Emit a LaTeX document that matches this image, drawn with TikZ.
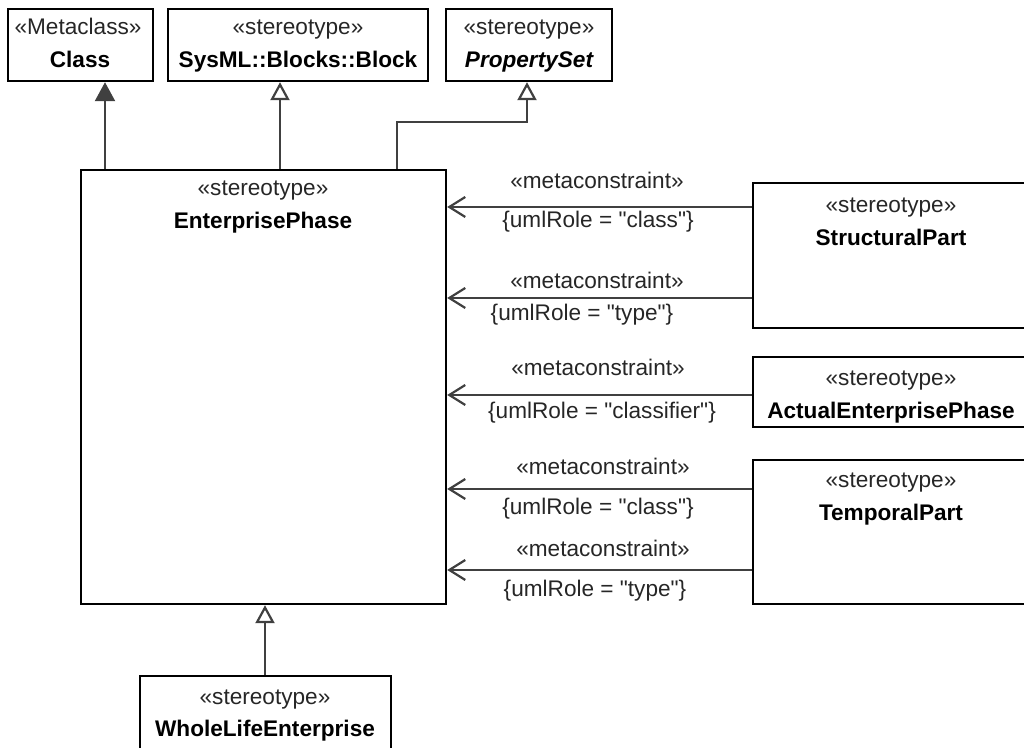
\documentclass[tikz,border=0pt]{standalone}
\usepackage{fontspec}
\setmainfont{Liberation Sans}[Ligatures=TeXOff]
\usetikzlibrary{arrows.meta,fit}
\begin{document}
\begin{tikzpicture}[x=0.5pt,y=-0.5pt,
  box/.style={draw=black, line width=1.2pt, inner sep=0pt},
  st/.style={font=\fontsize{11.3}{14}\selectfont, text=black!85, inner sep=0pt, anchor=base},
  nm/.style={font=\fontsize{11.3}{14}\selectfont\bfseries, text=black, inner sep=0pt, anchor=base},
  lbl/.style={font=\fontsize{11.3}{14}\selectfont, text=black!85, inner sep=0pt, anchor=base},
  conn/.style={draw=black!75, line width=1.1pt},
  gen/.style={conn, -{Triangle[open, length=9pt, width=9.5pt, fill=white]}},
  meta/.style={conn, -{Triangle[length=9.5pt, width=10pt]}},
  mc/.style={conn, -{Straight Barb[length=8pt, width=10pt]}}
]
\useasboundingbox (0,0) rectangle (1024,748);
% boxes
\node[box, fit={(8,9) (153,81)}] (cls) {};
\node[box, fit={(168,9) (428,81)}] (blk) {};
\node[box, fit={(446,9) (612,81)}] (pset) {};
\node[box, fit={(81,170) (446,604)}] (ep) {};
\node[box, fit={(753,183) (1034,328)}] (sp) {};
\node[box, fit={(753,357) (1034,427)}] (aep) {};
\node[box, fit={(753,460) (1034,604)}] (tp) {};
\node[box, fit={(140,676) (391,760)}] (wle) {};
% box texts
\node[st] (clsS) at (78,35) {«Metaclass»};
\node[nm] (clsN) at (80,68) {Class};
\node[st] (blkS) at (298,35) {«stereotype»};
\node[nm] (blkN) at (298,68) {SysML::Blocks::Block};
\node[st] (psetS) at (529,35) {«stereotype»};
\node[nm] (psetN) at (529,68) {\itshape PropertySet};
\node[st] (epS) at (263,196) {«stereotype»};
\node[nm] (epN) at (263,229) {EnterprisePhase};
\node[st] (spS) at (891,213) {«stereotype»};
\node[nm] (spN) at (891,246) {StructuralPart};
\node[st] (aepS) at (891,386) {«stereotype»};
\node[nm] (aepN) at (891,419) {ActualEnterprisePhase};
\node[st] (tpS) at (891,488) {«stereotype»};
\node[nm] (tpN) at (891,521) {TemporalPart};
\node[st] (wleS) at (265,705) {«stereotype»};
\node[nm] (wleN) at (265,737) {WholeLifeEnterprise};
% generalisations / extension
\draw[meta] (ep.north -| 105,0) -- (cls.south -| 105,0);
\draw[gen] (ep.north -| 280,0) -- (blk.south -| 280,0);
\draw[gen] (ep.north -| 397,0) |- (527,122) -- (pset.south -| 527,0);
\draw[gen] (wle.north -| 265,0) -- (ep.south -| 265,0);
% metaconstraints
\draw[mc] (sp.west |- 0,207) -- (ep.east |- 0,207);
\draw[mc] (sp.west |- 0,298) -- (ep.east |- 0,298);
\draw[mc] (aep.west |- 0,395) -- (ep.east |- 0,395);
\draw[mc] (tp.west |- 0,489) -- (ep.east |- 0,489);
\draw[mc] (tp.west |- 0,570) -- (ep.east |- 0,570);
\node[lbl] (m1) at (597,189) {«metaconstraint»};
\node[lbl] (r1) at (598,228) {\{umlRole = "class"\}};
\node[lbl] (m2) at (597,289) {«metaconstraint»};
\node[lbl] (r2) at (582,321) {\{umlRole = "type"\}};
\node[lbl] (m3) at (598,376) {«metaconstraint»};
\node[lbl] (r3) at (602,419) {\{umlRole = "classifier"\}};
\node[lbl] (m4) at (603,475) {«metaconstraint»};
\node[lbl] (r4) at (598,515) {\{umlRole = "class"\}};
\node[lbl] (m5) at (603,557) {«metaconstraint»};
\node[lbl] (r5) at (595,597) {\{umlRole = "type"\}};
\end{tikzpicture}
\end{document}
